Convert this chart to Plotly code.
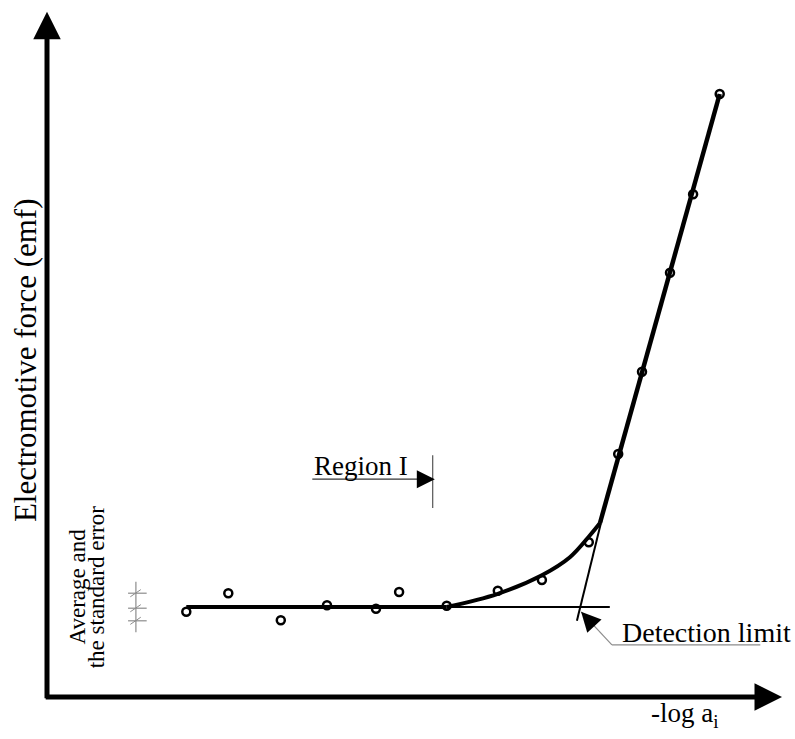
import plotly.graph_objects as go

# ---- data (arbitrary units: x = -log a_i, y = emf) ----
flat_x = [1.99, 2.59, 3.34, 4.00, 4.70, 5.03, 5.71]
flat_y = [1.42, 1.73, 1.28, 1.53, 1.47, 1.75, 1.52]
bend_x = [6.44, 7.07, 7.74]
bend_y = [1.77, 1.95, 2.58]
slope_x = [8.16, 8.50, 8.90, 9.23, 9.61]
slope_y = [4.05, 5.42, 7.07, 8.38, 10.05]

# fitted response line
plateau_x = [1.99, 5.71]
plateau_y = [1.50, 1.50]
curve_x = [5.71, 6.44, 7.07, 7.47, 7.76, 7.90]
curve_y = [1.50, 1.72, 2.03, 2.33, 2.70, 2.90]
nernst_x = [7.90, 9.61]
nernst_y = [2.90, 10.05]

# construction lines for the detection limit
baseline_x = [5.71, 8.04]
baseline_y = [1.50, 1.50]
tangent_x = [7.57, 7.93]
tangent_y = [1.27, 2.98]

# average and standard error glyph
err_x = 1.27
err_span = [1.08, 1.92]
err_levels = [1.73, 1.48, 1.27]
err_half = 0.14

# annotation anchors
region_x = [3.79, 5.33, 5.54]
region_y = 3.63
region_bar_x = 5.51
region_bar_y = [3.15, 4.03]
det_tip = [7.63, 1.42]
det_elbow = [8.07, 0.87]
det_end_x = 10.19

# axes extents
x_tip = 10.50
y_tip = 11.42

FONT = "Liberation Serif, Times New Roman, serif"
GRAY = "#8c8c8c"

fig = go.Figure()

fig.add_trace(go.Scatter(x=plateau_x, y=plateau_y, mode="lines",
                         line=dict(color="black", width=4), hoverinfo="skip"))
fig.add_trace(go.Scatter(x=baseline_x, y=baseline_y, mode="lines",
                         line=dict(color="black", width=2), hoverinfo="skip"))
fig.add_trace(go.Scatter(x=tangent_x, y=tangent_y, mode="lines",
                         line=dict(color="black", width=2), hoverinfo="skip"))
fig.add_trace(go.Scatter(x=curve_x, y=curve_y, mode="lines",
                         line=dict(color="black", width=4, shape="spline", smoothing=1.0),
                         hoverinfo="skip"))
fig.add_trace(go.Scatter(x=nernst_x, y=nernst_y, mode="lines",
                         line=dict(color="black", width=4.5), hoverinfo="skip"))
fig.add_trace(go.Scatter(x=flat_x + bend_x + slope_x, y=flat_y + bend_y + slope_y,
                         mode="markers",
                         marker=dict(symbol="circle-open", size=8, color="black",
                                     line=dict(width=2.5)),
                         hoverinfo="skip"))

shapes = []
# error glyph
shapes.append(dict(type="line", xref="x", yref="y", x0=err_x, x1=err_x,
                   y0=err_span[0], y1=err_span[1], line=dict(color=GRAY, width=1.2)))
for lv in err_levels:
    shapes.append(dict(type="line", xref="x", yref="y", x0=err_x - err_half * 0.8,
                       x1=err_x + err_half * 1.1, y0=lv, y1=lv,
                       line=dict(color=GRAY, width=1.2)))
    shapes.append(dict(type="line", xref="x", yref="y", x0=err_x - 0.08,
                       x1=err_x + 0.07, y0=lv - 0.06, y1=lv + 0.06,
                       line=dict(color=GRAY, width=1)))
# Region I
shapes.append(dict(type="line", xref="x", yref="y", x0=region_x[0], x1=region_x[1],
                   y0=region_y, y1=region_y, line=dict(color="#333333", width=1.2)))
shapes.append(dict(type="line", xref="x", yref="y", x0=region_bar_x, x1=region_bar_x,
                   y0=region_bar_y[0], y1=region_bar_y[1], line=dict(color="#555555", width=1.2)))
# Detection limit pointer
shapes.append(dict(type="line", xref="x", yref="y", x0=det_tip[0], x1=det_elbow[0],
                   y0=det_tip[1], y1=det_elbow[1], line=dict(color=GRAY, width=1.2)))
shapes.append(dict(type="line", xref="x", yref="y", x0=det_elbow[0], x1=det_end_x,
                   y0=det_elbow[1], y1=det_elbow[1], line=dict(color=GRAY, width=1.2)))

annotations = [
    # axes with arrowheads
    dict(x=0, y=y_tip, ax=0, ay=-0.045, xref="x", yref="y", axref="x", ayref="y",
         text="", showarrow=True, arrowhead=2, arrowsize=1.1, arrowwidth=5,
         arrowcolor="black", standoff=0),
    dict(x=x_tip, y=0, ax=-0.04, ay=0, xref="x", yref="y", axref="x", ayref="y",
         text="", showarrow=True, arrowhead=2, arrowsize=1.1, arrowwidth=5,
         arrowcolor="black", standoff=0),
    # Region I arrowhead
    dict(x=region_x[2], y=region_y, ax=region_x[1], ay=region_y, xref="x", yref="y",
         axref="x", ayref="y", text="", showarrow=True, arrowhead=2, arrowsize=2.4,
         arrowwidth=1.5, arrowcolor="black", standoff=0),
    # Detection limit arrowhead
    dict(x=det_tip[0], y=det_tip[1], ax=14, ay=15, xref="x", yref="y",
         text="", showarrow=True, arrowhead=2, arrowsize=2.6, arrowwidth=1.5,
         arrowcolor="black", standoff=0),
    # texts
    dict(x=region_x[0], y=3.85, xref="x", yref="y", text="Region I", showarrow=False,
         xanchor="left", yanchor="middle", font=dict(family=FONT, size=27, color="black")),
    dict(x=8.19, y=1.07, xref="x", yref="y", text="Detection limit", showarrow=False,
         xanchor="left", yanchor="middle", font=dict(family=FONT, size=28, color="black")),
    dict(x=9.10, y=-0.30, xref="x", yref="y", text="-log a<sub>i</sub>", showarrow=False,
         xanchor="center", yanchor="middle", font=dict(family=FONT, size=27, color="black")),
    dict(x=-0.31, y=5.62, xref="x", yref="y", text="Electromotive force (emf)",
         showarrow=False, textangle=-90, xanchor="center", yanchor="middle",
         font=dict(family=FONT, size=31, color="black")),
    dict(x=0.44, y=1.84, xref="x", yref="y", text="Average and",
         showarrow=False, textangle=-90, xanchor="center", yanchor="middle",
         font=dict(family=FONT, size=23, color="black")),
    dict(x=0.71, y=1.84, xref="x", yref="y", text="the standard error",
         showarrow=False, textangle=-90, xanchor="center", yanchor="middle",
         font=dict(family=FONT, size=23, color="black")),
]

fig.update_layout(
    width=795, height=739,
    margin=dict(l=0, r=0, t=0, b=0),
    paper_bgcolor="white", plot_bgcolor="white",
    showlegend=False,
    xaxis=dict(range=[-0.6714, 10.6857], visible=False, fixedrange=True),
    yaxis=dict(range=[-0.70, 11.6167], visible=False, fixedrange=True),
    shapes=shapes,
    annotations=annotations,
)

fig.write_html("out.html")
